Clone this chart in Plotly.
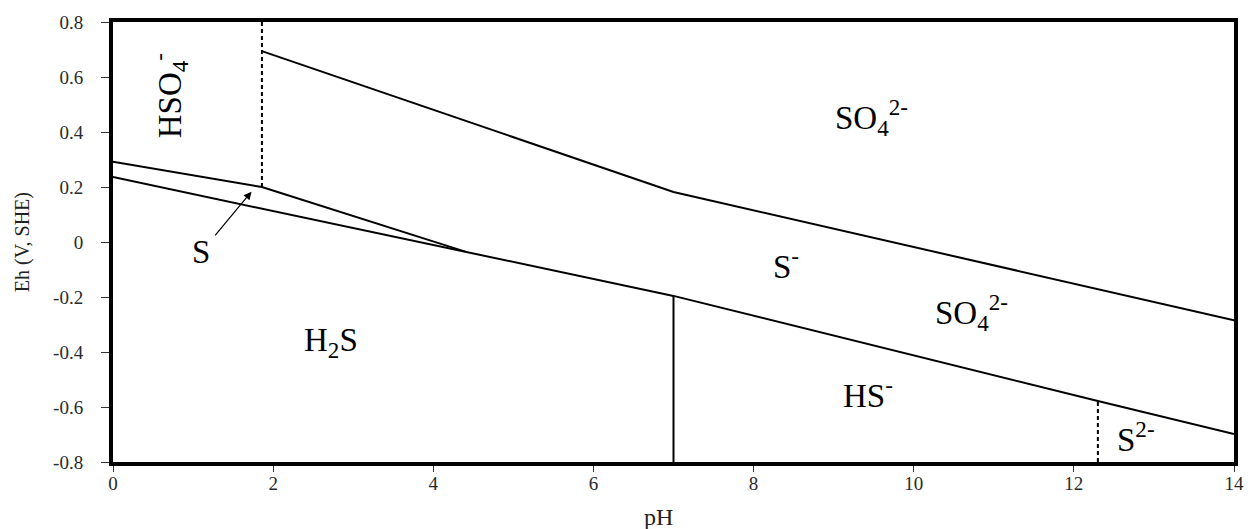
import plotly.graph_objects as go

# Eh-pH stability field boundaries for the sulfur system (pH, Eh in V vs SHE)
hso4_s_ph = [0.0, 1.86, 4.4]
hso4_s_eh = [0.292, 0.200, -0.035]

s_h2s_ph = [0.0, 4.4, 7.0, 12.3, 14.0]
s_h2s_eh = [0.236, -0.035, -0.196, -0.578, -0.698]

so4_upper_ph = [1.86, 7.0, 14.0]
so4_upper_eh = [0.694, 0.182, -0.285]

hso4_so4_ph = [1.86, 1.86]
hso4_so4_eh = [0.8, 0.200]

h2s_hs_ph = [7.0, 7.0]
h2s_hs_eh = [-0.8, -0.196]

hs_s2_ph = [12.3, 12.3]
hs_s2_eh = [-0.8, -0.578]

# Species labels
label_text = ["SO<sub>4</sub><sup>2-</sup>", "S<sup>-</sup>", "SO<sub>4</sub><sup>2-</sup>",
              "H<sub>2</sub>S", "HS<sup>-</sup>", "S<sup>2-</sup>", "S"]
label_ph = [9.47, 8.40, 10.72, 2.72, 9.43, 12.77, 1.10]
label_eh = [0.453, -0.079, -0.256, -0.364, -0.550, -0.708, -0.036]

x_ticks = [0, 2, 4, 6, 8, 10, 12, 14]
y_ticks = [0.8, 0.6, 0.4, 0.2, 0, -0.2, -0.4, -0.6, -0.8]
y_ticktext = ["0.8", "0.6", "0.4", "0.2", "0", "-0.2", "-0.4", "-0.6", "-0.8"]

SERIF = "Liberation Serif"

fig = go.Figure()

solid = dict(color="black", width=2)
dashed = dict(color="black", width=2, dash="4px,3px")

for xs, ys, style in [
    (hso4_s_ph, hso4_s_eh, solid),
    (s_h2s_ph, s_h2s_eh, solid),
    (so4_upper_ph, so4_upper_eh, solid),
    (h2s_hs_ph, h2s_hs_eh, solid),
    (hso4_so4_ph, hso4_so4_eh, dashed),
    (hs_s2_ph, hs_s2_eh, dashed),
]:
    fig.add_trace(go.Scatter(x=xs, y=ys, mode="lines", line=style,
                             showlegend=False, hoverinfo="skip"))

annotations = []
for t, x, y in zip(label_text, label_ph, label_eh):
    annotations.append(dict(x=x, y=y, text=t, showarrow=False,
                            font=dict(family=SERIF, size=33, color="black"),
                            xanchor="center", yanchor="middle"))

# HSO4- label, rotated
annotations.append(dict(x=0.70, y=0.530, text="HSO<sub>4</sub><sup>-</sup>",
                        showarrow=False, textangle=-90,
                        font=dict(family=SERIF, size=33, color="black"),
                        xanchor="center", yanchor="middle"))

# Arrow pointing at the narrow S field
annotations.append(dict(x=1.73, y=0.183, ax=1.26, ay=0.019,
                        xref="x", yref="y", axref="x", ayref="y",
                        text="", showarrow=True, arrowhead=2, arrowsize=1.3,
                        arrowwidth=1.2, arrowcolor="black"))

# Axis titles
annotations.append(dict(x=-0.081, y=0.5, xref="x domain", yref="y domain",
                        text="Eh (V, SHE)", showarrow=False, textangle=-90,
                        font=dict(family=SERIF, size=20, color="#222"),
                        xanchor="center", yanchor="middle"))
annotations.append(dict(x=0.487, y=-0.125, xref="x domain", yref="y domain", text="pH",
                        showarrow=False,
                        font=dict(family=SERIF, size=24, color="#222"),
                        xanchor="center", yanchor="middle"))

axis_common = dict(showline=True, linecolor="black", linewidth=4, mirror=True,
                   showgrid=False, zeroline=False, ticks="outside",
                   tickcolor="#333", tickwidth=1,
                   tickfont=dict(family=SERIF, size=19, color="#2a2a2a"))

fig.update_layout(
    width=1256, height=529,
    margin=dict(l=113, r=13, t=17, b=67),
    paper_bgcolor="white", plot_bgcolor="white",
    xaxis=dict(range=[0, 14], tickvals=x_ticks, ticktext=[str(v) for v in x_ticks],
               ticklen=6, ticklabelstandoff=-5, **axis_common),
    yaxis=dict(range=[-0.8, 0.8], tickvals=y_ticks, ticktext=y_ticktext,
               ticklen=8, ticklabelstandoff=14, **axis_common),
    annotations=annotations,
)

fig.write_html("out.html")
